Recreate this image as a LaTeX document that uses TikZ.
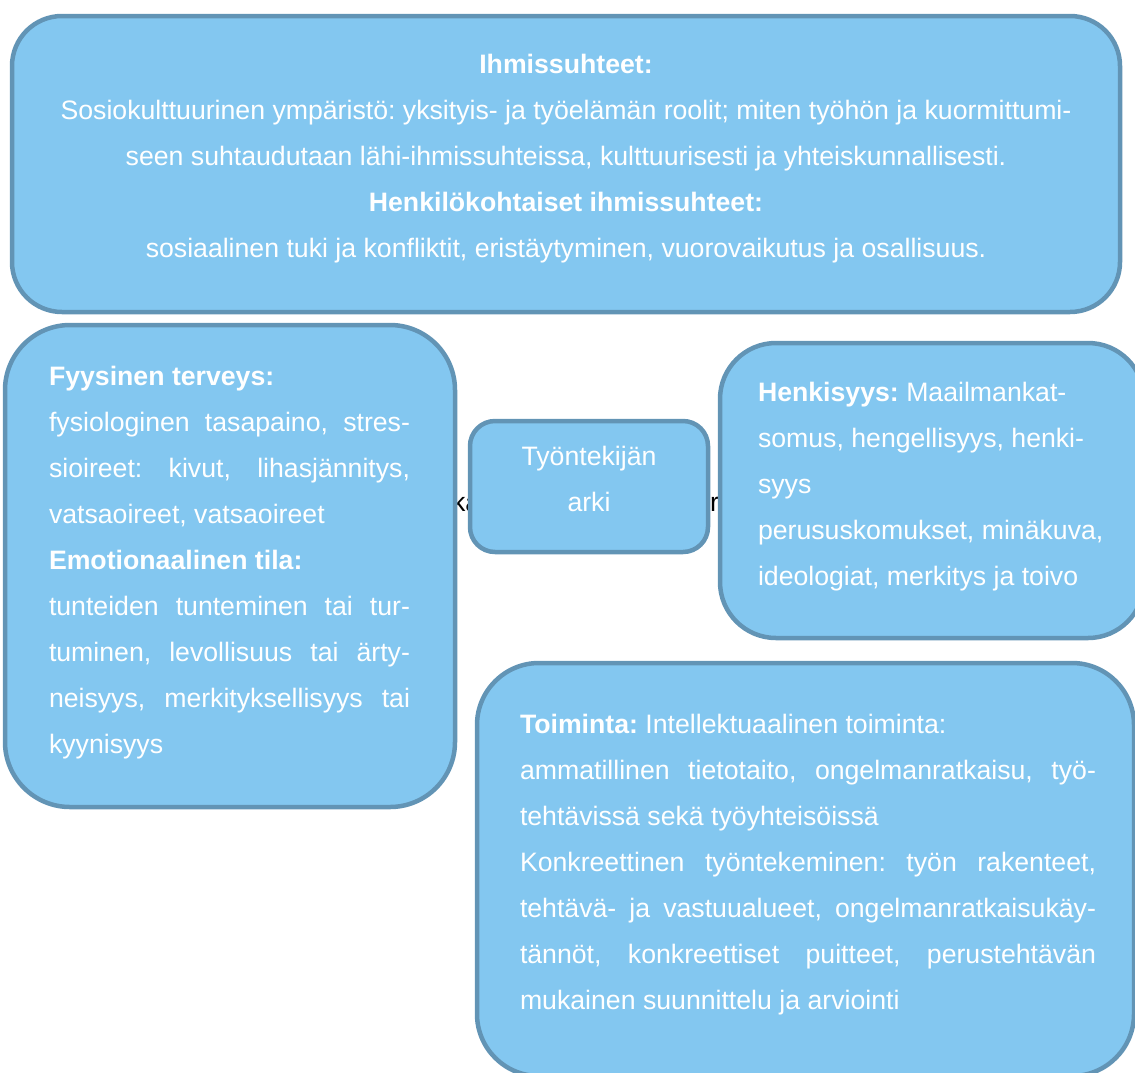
\documentclass[tikz,border=0pt]{standalone}
\usepackage{fontspec}
\setmainfont{Liberation Sans}
\definecolor{boxfill}{RGB}{131,199,240}
\definecolor{boxline}{RGB}{98,148,181}
\newlength\lw
\newcommand\cl[1]{\hbox to\lw{\hfil#1\hfil}}
\newcommand\jl[1]{\hbox to\lw{#1}}
\newcommand\rl[1]{\hbox to\lw{#1\hfil}}
\frenchspacing
\begin{document}
\begin{tikzpicture}[x=1pt,y=-1pt,
  box/.style={draw=boxline, fill=boxfill, line width=4.5pt, inner sep=0pt, outer sep=0pt, rectangle},
  txt/.style={inner sep=0pt, outer sep=0pt, text=white, anchor=base west,
    font=\fontsize{26.67pt}{46pt}\selectfont\frenchspacing},
  hid/.style={inner sep=0pt, outer sep=0pt, text=black, anchor=base west,
    font=\fontsize{26.67pt}{46pt}\selectfont}]
\useasboundingbox (0,0) rectangle (1135,1072);
\clip (0,0) rectangle (1135,1072);
% partly hidden black text behind the boxes
\node[hid] (hidl) at (452,511) {ka};
\node[hid] (hidr) at (710,511) {r};
% boxes
\node[box, rounded corners=50pt, minimum width=1108pt, minimum height=296pt] (top) at (566,164) {};
\node[box, rounded corners=65pt, minimum width=450pt, minimum height=482pt] (left) at (230,566) {};
\node[box, rounded corners=25pt, minimum width=238pt, minimum height=131pt] (center) at (589,486.5) {};
\node[box, rounded corners=56pt, minimum width=424pt, minimum height=295pt] (right) at (932,490.5) {};
\node[box, rounded corners=62pt, minimum width=657pt, minimum height=413pt] (bottom) at (805.5,869.5) {};
% texts
\node[txt] (toptext) at (12,73) {\lw=1108pt\vtop{\baselineskip=46pt
  \cl{\textbf{Ihmissuhteet:}}
  \cl{Sosiokulttuurinen ympäristö: yksityis- ja työelämän roolit; miten työhön ja kuormittumi-}
  \cl{seen suhtaudutaan lähi-ihmissuhteissa, kulttuurisesti ja yhteiskunnallisesti.}
  \cl{\textbf{Henkilökohtaiset ihmissuhteet:}}
  \cl{sosiaalinen tuki ja konfliktit, eristäytyminen, vuorovaikutus ja osallisuus.}}};
\node[txt] (lefttext) at (49,385) {\lw=361pt\vtop{\baselineskip=46pt
  \rl{\textbf{Fyysinen terveys:}}
  \jl{fysiologinen tasapaino, stres-}
  \jl{sioireet: kivut, lihasjännitys,}
  \rl{vatsaoireet, vatsaoireet}
  \rl{\textbf{Emotionaalinen tila:}}
  \jl{tunteiden tunteminen tai tur-}
  \jl{tuminen, levollisuus tai ärty-}
  \jl{neisyys, merkityksellisyys tai}
  \rl{kyynisyys}}};
\node[txt] (centertext) at (470,465) {\lw=238pt\vtop{\baselineskip=46pt
  \cl{Työntekijän}
  \cl{arki}}};
\node[txt] (righttext) at (758,401) {\lw=360pt\vtop{\baselineskip=46pt
  \rl{\textbf{Henkisyys:} Maailmankat-}
  \rl{somus, hengellisyys, henki-}
  \rl{syys}
  \rl{perususkomukset, minäkuva,}
  \rl{ideologiat, merkitys ja toivo}}};
\node[txt] (bottomtext) at (520,733) {\lw=576pt\vtop{\baselineskip=46pt
  \rl{\textbf{Toiminta:} Intellektuaalinen toiminta:}
  \jl{ammatillinen tietotaito, ongelmanratkaisu, työ-}
  \rl{tehtävissä sekä työyhteisöissä}
  \jl{Konkreettinen työntekeminen: työn rakenteet,}
  \jl{tehtävä- ja vastuualueet, ongelmanratkaisukäy-}
  \jl{tännöt, konkreettiset puitteet, perustehtävän}
  \rl{mukainen suunnittelu ja arviointi}}};
\end{tikzpicture}
\end{document}
